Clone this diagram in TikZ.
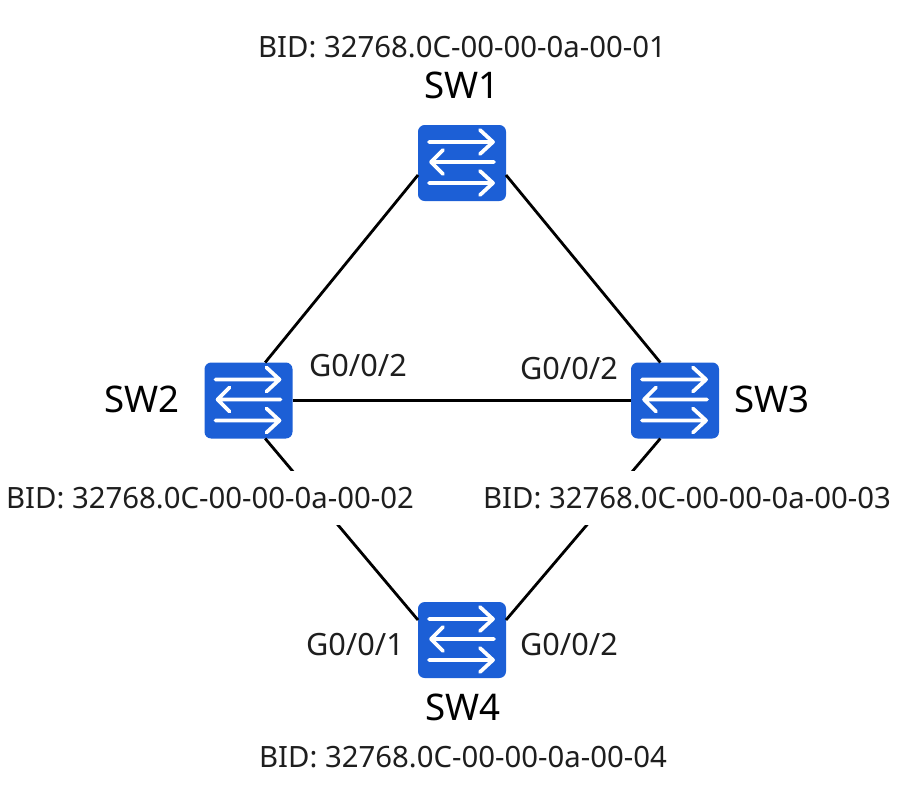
\documentclass[tikz,border=0pt]{standalone}
\usepackage{fontspec}
\setmainfont{Noto Sans}
\usetikzlibrary{calc}
\definecolor{switchblue}{HTML}{1C5FD6}
\definecolor{inkgrey}{HTML}{1E1E1E}
\tikzset{
  x=0.75pt,y=-0.75pt,
  switchbox/.style={fill=switchblue,draw=none,rounded corners=5pt,minimum width=66pt,minimum height=57pt,inner sep=0pt,outer sep=0pt},
  flow/.style={draw=white,line width=2.8pt,line cap=round,line join=round},
  link/.style={draw=black,line width=2.1pt},
  bid/.style={font=\fontsize{22}{26}\selectfont,text=inkgrey,fill=white,inner xsep=0pt,inner ysep=1pt},
  port/.style={font=\fontsize{23}{28}\selectfont,text=inkgrey,inner sep=0pt},
  swname/.style={font=\fontsize{27.5}{33}\selectfont,text=black,inner sep=0pt},
}
\begin{document}
\begin{tikzpicture}
\useasboundingbox (0,0) rectangle (912,786);
% switches
\node[switchbox] (sw1) at (462,163) {};
\node[switchbox] (sw2) at (248.5,400.5) {};
\node[switchbox] (sw3) at (675,400.5) {};
\node[switchbox] (sw4) at (462,640) {};
% the three arrows on each switch face
\foreach \s in {sw1,sw2,sw3,sw4}{
  \begin{scope}[shift={(\s.center)}]
    \draw[flow] (-33,-21) -- (31,-21) (18,-33) -- (31,-21) -- (18,-9);
    \draw[flow] (32,-1) -- (-31,-1) (-19,-13) -- (-31,-1) -- (-19,11);
    \draw[flow] (-33,20) -- (31,20) (18,8) -- (31,20) -- (18,32);
  \end{scope}
}
% links
\draw[link] ([yshift=-9pt]sw1.west) -- ([xshift=12.5pt]sw2.north);
\draw[link] ([yshift=-9pt]sw1.east) -- ([xshift=-11pt]sw3.north);
\draw[link] (sw2.east) -- (sw3.west);
\draw[link] ([xshift=12.5pt]sw2.south) -- ([yshift=15pt]sw4.west);
\draw[link] ([xshift=-11pt]sw3.south) -- ([yshift=15pt]sw4.east);
% switch names
\node[swname] (n1) at (462,85) {SW1};
\node[swname] (n2) at (142,399) {SW2};
\node[swname] (n3) at (772,399) {SW3};
\node[swname] (n4) at (463,707) {SW4};
% bridge identifiers
\node[bid] (b1) at (462,47) {BID: 32768.0C-00-00-0a-00-01};
\node[bid,minimum height=41pt] (b2) at (210,498) {BID: 32768.0C-00-00-0a-00-02};
\node[bid,minimum height=41pt] (b3) at (687,498) {BID: 32768.0C-00-00-0a-00-03};
\node[bid] (b4) at (463,757) {BID: 32768.0C-00-00-0a-00-04};
% port labels
\node[port] (p1) at (358,366) {G0/0/2};
\node[port] (p2) at (569,369) {G0/0/2};
\node[port] (p3) at (355,645) {G0/0/1};
\node[port] (p4) at (569,645) {G0/0/2};
\end{tikzpicture}
\end{document}
